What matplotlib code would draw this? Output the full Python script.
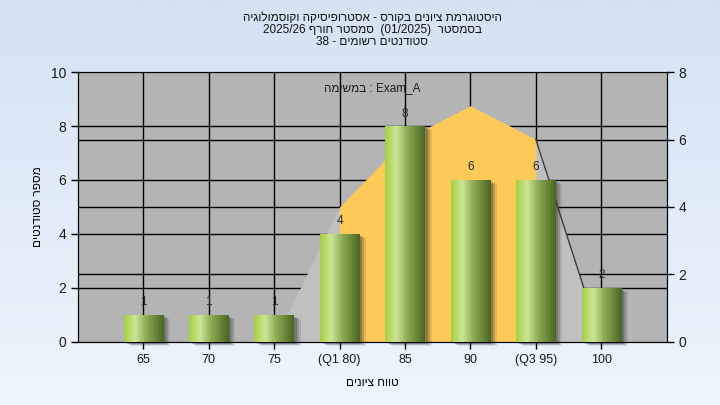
import re
import numpy as np
import matplotlib
matplotlib.use('Agg')
import matplotlib.pyplot as plt
import matplotlib.transforms as mtransforms
from matplotlib.colors import LinearSegmentedColormap
from matplotlib.patches import Rectangle

plt.rcParams['font.family'] = ['Liberation Sans', 'DejaVu Sans']

# data
gradeLabels = ['65', '70', '75', '(Q1 80)', '85', '90', '(Q3 95)', '100']
studentCounts = [1, 1, 1, 4, 8, 6, 6, 2]
# distribution curve on the right axis (nan = not drawn)
curveValues = [np.nan, np.nan, 0, 4, 6, 7, 6, 0]
q1Index = 3
q3Index = 6

titleLines = ['היסטוגרמת ציונים בקורס - אסטרופיסיקה וקוסמולוגיה',
              'בסמסטר  (01/2025)  סמסטר חורף 2025/26',
              'סטודנטים רשומים - 38']
examLabel = 'Exam_A : במשימה'
xLabel = 'טווח ציונים'
yLabel = 'מספר סטודנטים'


def heb(s):
    # matplotlib draws left to right, so put Hebrew in visual order
    r = s[::-1]
    r = re.sub(r'[0-9A-Za-z_/.]+', lambda m: m.group(0)[::-1], r)
    return r.translate(str.maketrans('()', ')('))


fig = plt.figure(figsize=(7.2, 4.05), dpi=100)

# light blue gradient background
bgAx = fig.add_axes([0, 0, 1, 1], zorder=-10)
bgAx.imshow(np.linspace(0, 1, 256).reshape(-1, 1), aspect='auto', extent=[0, 1, 0, 1],
            cmap=LinearSegmentedColormap.from_list('bg', ['#d4e2f4', '#eef6fd']))
bgAx.axis('off')

ax = fig.add_axes([0.108, 0.156, 0.818, 0.666])
axRight = ax.twinx()
# right axis (curve) sits behind the bars
ax.set_zorder(2)
axRight.set_zorder(1)
ax.patch.set_visible(False)
axRight.patch.set_visible(True)
axRight.set_facecolor('#b4b4b4')

xs = np.arange(1, len(gradeLabels) + 1)
ax.set_xlim(0, len(gradeLabels) + 1)
ax.set_ylim(0, 10)
axRight.set_ylim(0, 8)
ax.set_yticks([0, 2, 4, 6, 8, 10])
axRight.set_yticks([0, 2, 4, 6, 8])
ax.set_xticks(xs)
ax.set_xticklabels(gradeLabels)

# grid lines, all kept behind the curve areas
gridKw = dict(color='black', lw=1.0, zorder=0.5)
for x in xs:
    axRight.axvline(x, **gridKw)
for v in [2, 4, 6, 8]:
    axRight.plot([0, 1], [v, v], transform=mtransforms.blended_transform_factory(axRight.transAxes, ax.transData),
                 **gridKw)
for v in [2, 4, 6]:
    axRight.axhline(v, **gridKw)

# curve area with interquartile part in orange
curve = np.array(curveValues, dtype=float)
ok = ~np.isnan(curve)
axRight.fill_between(xs[ok], 0, curve[ok], color='#c0c0c0', lw=0, zorder=1)
iqr = slice(q1Index, q3Index + 1)
axRight.fill_between(xs[iqr], 0, curve[iqr], color='#fdc957', lw=0, zorder=1.2)
axRight.plot(xs[q3Index:], curve[q3Index:], color='#3c3c3c', lw=1.0, zorder=1.5)

# bars with gradient and soft shadow
barCmap = LinearSegmentedColormap.from_list('bar', [(0, '#a6cf44'), (0.28, '#cde596'),
                                                    (0.55, '#90ac56'), (1, '#4a6622')])
grad = np.linspace(0, 1, 64).reshape(1, -1)
barWidth = 0.6
for x, h in zip(xs, studentCounts):
    for dx, dy, a in [(3, -2, 0.3), (5, -3, 0.22), (7, -4, 0.12)]:
        tr = mtransforms.offset_copy(ax.transData, fig=fig, x=dx, y=dy, units='dots')
        ax.add_patch(Rectangle((x - barWidth / 2, 0), barWidth, h, transform=tr, color='#303030',
                               alpha=a, lw=0, zorder=2, clip_on=False))
    bar = ax.bar(x, h, barWidth, color='none', lw=0, zorder=3)[0]
    im = ax.imshow(grad, cmap=barCmap, aspect='auto', zorder=3,
                   extent=[x - barWidth / 2, x + barWidth / 2, 0, h])
    im.set_clip_path(bar)
    ax.annotate(str(h), (x, h), xytext=(0, 9), textcoords='offset points', ha='center', va='center',
                fontsize=8.5, color='#1e2a3a', zorder=4)

ax.set_xlim(0, len(gradeLabels) + 1)
ax.set_ylim(0, 10)

for a in (ax, axRight):
    for s in a.spines.values():
        s.set_color('black')
    a.tick_params(direction='out', length=5, width=1, colors='black', labelcolor='#1a1a1a')
ax.tick_params(axis='y', labelsize=10)
axRight.tick_params(axis='y', labelsize=10)
ax.tick_params(axis='x', labelsize=9)

ax.text(0.5, 0.94, heb(examLabel), transform=ax.transAxes, ha='center', va='center', fontsize=8.5,
        color='#1a1a1a')
ax.set_xlabel(heb(xLabel), fontsize=8.5, labelpad=8)
ax.set_ylabel(heb(yLabel), fontsize=8.5, labelpad=5)

for i, line in enumerate(titleLines):
    fig.text(0.517, 1 - (18 + 12 * i) / 405, heb(line), ha='center', va='center', fontsize=8.5,
             color='#111111')

fig.savefig('out.png', dpi=100)
